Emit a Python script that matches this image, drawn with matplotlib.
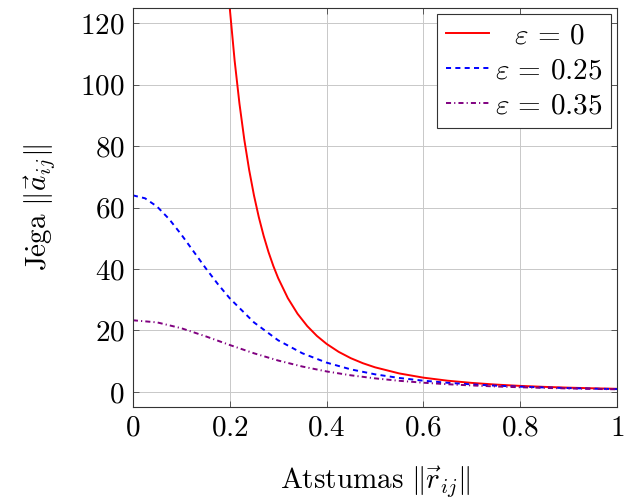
import matplotlib
matplotlib.use("Agg")
from matplotlib import pyplot as plt

plt.rcParams['mathtext.fontset'] = 'cm'
plt.rcParams['font.family'] = ['cmr10', 'DejaVu Serif']
plt.rcParams['axes.unicode_minus'] = False

# epsilon = 0
r0 = [0.2, 0.21, 0.22, 0.23, 0.24, 0.25, 0.26, 0.27, 0.28, 0.29, 0.3, 0.32, 0.34,
      0.36, 0.38, 0.4, 0.425, 0.45, 0.475, 0.5, 0.55, 0.6, 0.65, 0.7, 0.75, 0.8,
      0.85, 0.9, 0.95, 1.0]
a0 = [125.0, 107.98, 93.91, 82.19, 72.34, 64.0, 56.90, 50.81, 45.55, 41.00, 37.04,
      30.52, 25.44, 21.43, 18.22, 15.63, 13.03, 10.97, 9.33, 8.0, 6.01, 4.63, 3.64,
      2.92, 2.37, 1.95, 1.63, 1.37, 1.17, 1.0]

# epsilon = 0.25
r1 = [0.0, 0.025, 0.05, 0.075, 0.1, 0.125, 0.15, 0.175, 0.2, 0.25, 0.3, 0.35, 0.4,
      0.45, 0.5, 0.55, 0.6, 0.65, 0.7, 0.75, 0.8, 0.85, 0.9, 0.95, 1.0]
a1 = [64.0, 63.05, 60.34, 56.24, 51.23, 45.79, 40.35, 35.19, 30.47, 22.63, 16.79,
      12.57, 9.53, 7.33, 5.72, 4.53, 3.64, 2.96, 2.44, 2.02, 1.70, 1.44, 1.23, 1.05, 0.91]

# epsilon = 0.35
r2 = [0.0, 0.05, 0.1, 0.15, 0.2, 0.25, 0.3, 0.35, 0.4, 0.45, 0.5, 0.55, 0.6, 0.65,
      0.7, 0.75, 0.8, 0.85, 0.9, 0.95, 1.0]
a2 = [23.32, 22.63, 20.73, 18.11, 15.27, 12.57, 10.21, 8.25, 6.66, 5.40, 4.40, 3.61,
      2.98, 2.49, 2.09, 1.76, 1.50, 1.29, 1.11, 0.96, 0.84]

xticks = [0, 0.2, 0.4, 0.6, 0.8, 1.0]
xticklabels = [r'$0$', r'$0.2$', r'$0.4$', r'$0.6$', r'$0.8$', r'$1$']
yticks = [0, 20, 40, 60, 80, 100, 120]
yticklabels = [r'$0$', r'$20$', r'$40$', r'$60$', r'$80$', r'$100$', r'$120$']

fs = 21

fig = plt.figure(figsize=(6.24, 5.04), dpi=100)
ax = fig.add_axes([0.213, 0.192, 0.776, 0.792])

ax.plot(r0, a0, color=(1, 0, 0), lw=1.4, label=r'$\hspace{0.75}\varepsilon\,=\,0$')
ax.plot(r1, a1, color=(0, 0, 1), lw=1.4, ls=(0, (2.6, 2.2)),
        label=r'$\varepsilon\,=\,0.25$')
ax.plot(r2, a2, color=(0.5, 0, 0.5), lw=1.4, ls=(0, (2.6, 1.6, 0.6, 1.6)),
        label=r'$\varepsilon\,=\,0.35$')

ax.set_xlim(0, 1)
ax.set_ylim(-5, 125)
ax.set_xticks(xticks)
ax.set_xticklabels(xticklabels)
ax.set_yticks(yticks)
ax.set_yticklabels(yticklabels)
ax.tick_params(direction='in', length=4, width=0.6, top=True, right=True,
               labelsize=fs, color='#444444', pad=6)
ax.grid(True, color='#c8c8c8', lw=0.7)
ax.set_axisbelow(True)
for s in ax.spines.values():
    s.set_linewidth(0.8)
    s.set_color('#333333')

ax.set_xlabel(r'$\mathrm{Atstumas}\ \|\vec{r}_{ij}\|$', fontsize=fs, labelpad=16)
ax.set_ylabel(r'$\mathrm{J\dot{e}ga}\ \|\vec{a}_{ij}\|$', fontsize=fs, labelpad=16)

leg = ax.legend(loc='upper right', fontsize=fs, fancybox=False, framealpha=1,
                edgecolor='#333333', borderaxespad=0.2, handlelength=1.5,
                labelspacing=0.3, borderpad=0.3, handletextpad=0.2)
leg.get_frame().set_linewidth(0.8)

fig.savefig('out.png', dpi=100)
